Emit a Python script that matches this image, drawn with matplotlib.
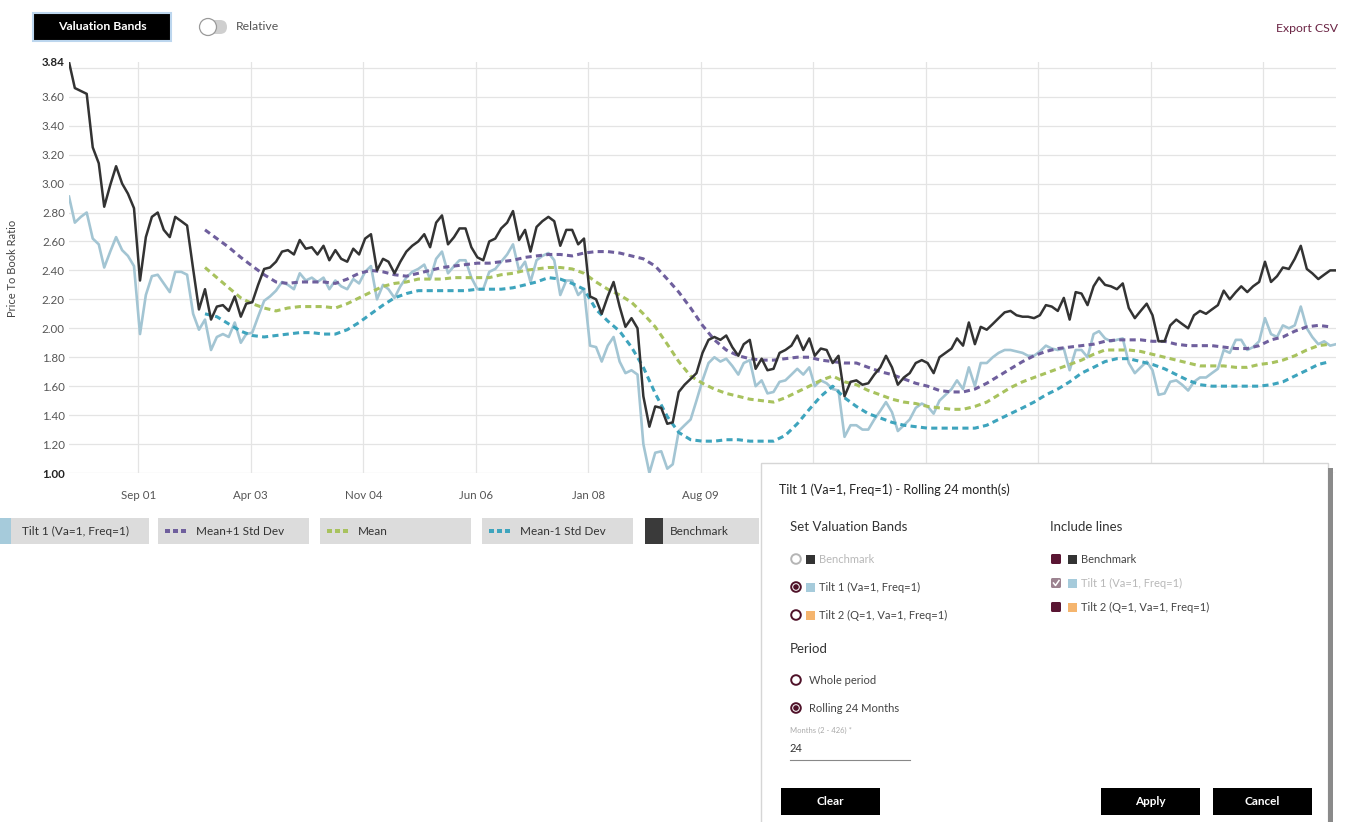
import matplotlib.pyplot as plt
import matplotlib.patches as mpatches
import numpy as np
import pandas as pd

plt.rcParams['font.family'] = ['Lato', 'DejaVu Sans']

# Monthly price-to-book series
benchmark = [
    3.84, 3.66, 3.64, 3.62, 3.25, 3.14, 2.84, 2.99, 3.12, 3.00,
    2.93, 2.83, 2.33, 2.63, 2.77, 2.80, 2.68, 2.63, 2.77, 2.74,
    2.71, 2.41, 2.13, 2.27, 2.06, 2.15, 2.16, 2.12, 2.22, 2.08,
    2.17, 2.18, 2.30, 2.41, 2.42, 2.46, 2.53, 2.54, 2.51, 2.61,
    2.55, 2.56, 2.51, 2.57, 2.47, 2.54, 2.48, 2.46, 2.55, 2.51,
    2.62, 2.65, 2.40, 2.48, 2.46, 2.38, 2.46, 2.53, 2.57, 2.60,
    2.65, 2.56, 2.73, 2.78, 2.58, 2.63, 2.69, 2.69, 2.56, 2.49,
    2.47, 2.60, 2.62, 2.69, 2.73, 2.81, 2.61, 2.68, 2.53, 2.70,
    2.74, 2.77, 2.74, 2.57, 2.68, 2.68, 2.58, 2.62, 2.22, 2.20,
    2.10, 2.22, 2.32, 2.15, 2.01, 2.07, 2.00, 1.53, 1.32, 1.46,
    1.45, 1.34, 1.35, 1.56, 1.61, 1.65, 1.69, 1.83, 1.92, 1.94,
    1.92, 1.95, 1.87, 1.81, 1.89, 1.92, 1.72, 1.79, 1.71, 1.72,
    1.83, 1.85, 1.88, 1.95, 1.85, 1.93, 1.81, 1.86, 1.85, 1.76,
    1.81, 1.53, 1.63, 1.64, 1.61, 1.62, 1.68, 1.73, 1.81, 1.73,
    1.61, 1.66, 1.69, 1.76, 1.78, 1.76, 1.69, 1.80, 1.83, 1.86,
    1.93, 1.88, 2.04, 1.89, 2.01, 1.99, 2.03, 2.07, 2.11, 2.12,
    2.09, 2.08, 2.08, 2.07, 2.09, 2.16, 2.15, 2.12, 2.21, 2.06,
    2.25, 2.24, 2.16, 2.29, 2.35, 2.30, 2.29, 2.27, 2.31, 2.14,
    2.07, 2.12, 2.17, 2.09, 1.91, 1.91, 2.02, 2.06, 2.03, 2.00,
    2.09, 2.12, 2.10, 2.13, 2.16, 2.26, 2.20, 2.25, 2.29, 2.25,
    2.29, 2.32, 2.46, 2.32, 2.36, 2.42, 2.41, 2.48, 2.57, 2.41,
    2.38, 2.34, 2.37, 2.40, 2.40,
]

tilt1 = [
    2.91, 2.73, 2.77, 2.80, 2.62, 2.58, 2.42, 2.53, 2.63, 2.54,
    2.50, 2.43, 1.96, 2.23, 2.36, 2.37, 2.31, 2.25, 2.39, 2.39,
    2.37, 2.10, 1.99, 2.06, 1.85, 1.94, 1.96, 1.94, 2.04, 1.90,
    1.96, 1.97, 2.08, 2.19, 2.22, 2.26, 2.32, 2.30, 2.27, 2.38,
    2.33, 2.35, 2.32, 2.35, 2.27, 2.33, 2.29, 2.27, 2.34, 2.31,
    2.39, 2.43, 2.20, 2.30, 2.27, 2.21, 2.29, 2.35, 2.39, 2.41,
    2.44, 2.34, 2.48, 2.53, 2.38, 2.43, 2.47, 2.47, 2.35, 2.27,
    2.27, 2.39, 2.41, 2.46, 2.51, 2.58, 2.40, 2.46, 2.32, 2.47,
    2.50, 2.52, 2.47, 2.23, 2.33, 2.33, 2.23, 2.27, 1.88, 1.87,
    1.77, 1.88, 1.94, 1.77, 1.69, 1.71, 1.68, 1.20, 1.00, 1.14,
    1.15, 1.03, 1.06, 1.29, 1.33, 1.37, 1.50, 1.64, 1.76, 1.80,
    1.77, 1.79, 1.74, 1.68, 1.76, 1.78, 1.60, 1.64, 1.55, 1.56,
    1.63, 1.64, 1.68, 1.72, 1.68, 1.73, 1.60, 1.64, 1.62, 1.58,
    1.57, 1.25, 1.33, 1.33, 1.30, 1.30, 1.37, 1.43, 1.49, 1.42,
    1.29, 1.33, 1.37, 1.45, 1.48, 1.46, 1.41, 1.50, 1.54, 1.58,
    1.64, 1.58, 1.73, 1.60, 1.76, 1.76, 1.80, 1.83, 1.85, 1.85,
    1.84, 1.83, 1.81, 1.81, 1.84, 1.88, 1.86, 1.85, 1.86, 1.71,
    1.85, 1.85, 1.80, 1.96, 1.98, 1.93, 1.91, 1.92, 1.93, 1.76,
    1.69, 1.73, 1.77, 1.71, 1.54, 1.55, 1.63, 1.64, 1.61, 1.57,
    1.63, 1.66, 1.66, 1.69, 1.72, 1.85, 1.83, 1.92, 1.92, 1.85,
    1.87, 1.91, 2.07, 1.96, 1.94, 2.02, 2.00, 2.02, 2.15, 2.00,
    1.94, 1.89, 1.91, 1.88, 1.89,
]

# Rolling 24 month bands, sampled every second month from month 24
mean_plus_sd = [
    2.68, 2.62, 2.56, 2.49, 2.43, 2.37, 2.32, 2.31, 2.32, 2.32,
    2.32, 2.31, 2.34, 2.38, 2.40, 2.39, 2.37, 2.36, 2.38, 2.40,
    2.42, 2.43, 2.44, 2.45, 2.45, 2.46, 2.47, 2.49, 2.50, 2.51,
    2.51, 2.50, 2.52, 2.53, 2.53, 2.52, 2.50, 2.48, 2.43, 2.34,
    2.25, 2.14, 2.02, 1.92, 1.85, 1.81, 1.79, 1.78, 1.78, 1.79,
    1.80, 1.80, 1.78, 1.77, 1.76, 1.76, 1.73, 1.70, 1.68, 1.65,
    1.62, 1.60, 1.57, 1.56, 1.56, 1.58, 1.62, 1.67, 1.72, 1.77,
    1.81, 1.84, 1.86, 1.87, 1.88, 1.89, 1.91, 1.92, 1.92, 1.92,
    1.91, 1.91, 1.89, 1.88, 1.88, 1.88, 1.87, 1.86, 1.86, 1.88,
    1.92, 1.94, 1.98, 2.01, 2.02, 2.01,
]
mean = [
    2.42, 2.35, 2.28, 2.21, 2.17, 2.14, 2.12, 2.14, 2.15, 2.15,
    2.15, 2.14, 2.17, 2.21, 2.25, 2.29, 2.31, 2.32, 2.34, 2.34,
    2.34, 2.35, 2.35, 2.35, 2.35, 2.37, 2.38, 2.40, 2.41, 2.42,
    2.42, 2.41, 2.38, 2.32, 2.27, 2.23, 2.18, 2.10, 2.01, 1.89,
    1.77, 1.67, 1.62, 1.58, 1.55, 1.53, 1.51, 1.50, 1.49, 1.52,
    1.56, 1.60, 1.64, 1.67, 1.63, 1.61, 1.57, 1.54, 1.51, 1.49,
    1.48, 1.46, 1.45, 1.44, 1.44, 1.46, 1.49, 1.54, 1.59, 1.63,
    1.66, 1.69, 1.72, 1.75, 1.78, 1.82, 1.85, 1.85, 1.85, 1.84,
    1.82, 1.80, 1.78, 1.76, 1.74, 1.74, 1.74, 1.73, 1.73, 1.75,
    1.76, 1.78, 1.81, 1.85, 1.88, 1.89,
]
mean_minus_sd = [
    2.10, 2.08, 2.03, 1.98, 1.95, 1.94, 1.95, 1.96, 1.97, 1.97,
    1.96, 1.96, 1.99, 2.04, 2.10, 2.16, 2.21, 2.24, 2.26, 2.26,
    2.26, 2.26, 2.26, 2.27, 2.27, 2.27, 2.28, 2.30, 2.32, 2.35,
    2.34, 2.31, 2.27, 2.13, 2.05, 1.98, 1.87, 1.73, 1.55, 1.39,
    1.28, 1.23, 1.22, 1.22, 1.23, 1.23, 1.22, 1.22, 1.22, 1.26,
    1.34, 1.44, 1.53, 1.60, 1.52, 1.46, 1.41, 1.38, 1.35, 1.33,
    1.32, 1.31, 1.31, 1.31, 1.31, 1.31, 1.33, 1.37, 1.41, 1.45,
    1.49, 1.54, 1.58, 1.63, 1.69, 1.73, 1.77, 1.79, 1.79, 1.77,
    1.75, 1.72, 1.68, 1.64, 1.61, 1.60, 1.60, 1.60, 1.60, 1.60,
    1.61, 1.63, 1.67, 1.71, 1.75, 1.77,
]

grid_levels = [1.0, 1.2, 1.4, 1.6, 1.8, 2.0, 2.2, 2.4, 2.6, 2.8, 3.0, 3.2, 3.4, 3.6, 3.8]
y_max = 3.84
visible_x_labels = 6  # the rest sit under the settings panel

dates = pd.date_range('2000-09-01', periods=len(benchmark), freq='MS') + pd.Timedelta(days=9)
band_dates = dates[23::2][:len(mean)]
tick_dates = pd.date_range('2001-09-01', periods=11, freq='19MS')

W, H = 1353, 822
fig = plt.figure(figsize=(W / 100, H / 100), dpi=100)
fig.patch.set_facecolor('white')

# main chart
ax_l, ax_r, ax_t, ax_b = 69, 1336, 62, 473
ax = fig.add_axes([ax_l / W, 1 - ax_b / H, (ax_r - ax_l) / W, (ax_b - ax_t) / H])

ax.plot(dates, tilt1, color='#a3c5d3', lw=1.9, zorder=3)
ax.plot(band_dates, mean_plus_sd, color='#6f5f9d', lw=2.2, dashes=(2, 1.4), zorder=4)
ax.plot(band_dates, mean, color='#a8c25e', lw=2.2, dashes=(2, 1.4), zorder=4)
ax.plot(band_dates, mean_minus_sd, color='#3ea4bd', lw=2.2, dashes=(2, 1.4), zorder=4)
ax.plot(dates, benchmark, color='#333333', lw=1.8, zorder=5)

ax.set_xlim(dates[0], dates[-1])
ax.set_ylim(1.0, y_max)
ax.set_yticks(grid_levels)
ax.set_yticklabels([('' if v == 3.8 else f'{v:.2f}') for v in grid_levels])
ax.set_yticks([y_max], minor=True)
ax.set_yticklabels([f'{y_max:.2f}'], minor=True)
ax.set_xticks(tick_dates)
ax.set_xticklabels([d.strftime('%b %y') if k < visible_x_labels else ''
                    for k, d in enumerate(tick_dates)])
ax.tick_params(axis='both', which='both', length=0, labelsize=8.3, labelcolor='#555555')
ax.tick_params(axis='y', which='both', pad=3)
ax.tick_params(axis='x', pad=12)
for lab in ax.get_yticklabels():
    if lab.get_text() == '1.00':
        lab.set_fontweight('bold')
        lab.set_color('#222222')
for lab in ax.get_yticklabels(minor=True):
    lab.set_fontweight('bold')
    lab.set_color('#222222')
ax.grid(True, which='major', color='#e4e4e4', lw=0.9)
ax.set_axisbelow(True)
for s in ax.spines.values():
    s.set_visible(False)

fig.text(13 / W, 1 - 268 / H, 'Price To Book Ratio', rotation=90, ha='center',
         va='center', fontsize=8, color='#444444')

# UI overlay in pixel coordinates
ui = fig.add_axes([0, 0, 1, 1], zorder=10)
ui.set_xlim(0, W)
ui.set_ylim(H, 0)
ui.axis('off')
ui.patch.set_alpha(0)

# top controls
ui.add_patch(mpatches.Rectangle((33, 13), 138, 28, facecolor='black', edgecolor='#bcd6ee', lw=1.5))
ui.text(102, 27, 'Valuation Bands', color='white', fontsize=8.8, fontweight='bold', ha='center', va='center')
ui.add_patch(mpatches.FancyBboxPatch((207, 20), 20, 14, boxstyle='round,pad=0,rounding_size=7',
                                     facecolor='#cfcfcf', edgecolor='none'))
ui.add_patch(mpatches.Circle((208, 27), 8.5, facecolor='white', edgecolor='#9a9a9a', lw=0.9))
ui.text(236, 27, 'Relative', color='#555555', fontsize=8.8, va='center')
ui.text(1338, 29, 'Export CSV', color='#6b2444', fontsize=8.8, ha='right', va='center')

# legend row
leg_y, leg_h = 518, 26
ui.add_patch(mpatches.Rectangle((0, leg_y), 11, leg_h, facecolor='#a6cbdb', edgecolor='none'))
ui.add_patch(mpatches.Rectangle((11, leg_y), 138, leg_h, facecolor='#dcdcdc', edgecolor='none'))
ui.text(22, leg_y + leg_h / 2, 'Tilt 1 (Va=1, Freq=1)', fontsize=8.5, color='#333333', va='center')
band_legend = [(158, 'Mean+1 Std Dev', '#6f5f9d'), (320, 'Mean', '#a8c25e'), (482, 'Mean-1 Std Dev', '#3ea4bd')]
for x0, name, col in band_legend:
    ui.add_patch(mpatches.Rectangle((x0, leg_y), 151, leg_h, facecolor='#dcdcdc', edgecolor='none'))
    for k in range(3):
        ui.add_patch(mpatches.Rectangle((x0 + 7 + k * 8, leg_y + leg_h / 2 - 2), 5, 4, facecolor=col, edgecolor='none'))
    ui.text(x0 + 38, leg_y + leg_h / 2, name, fontsize=8.5, color='#333333', va='center')
ui.add_patch(mpatches.Rectangle((645, leg_y), 18, leg_h, facecolor='#3a3a3a', edgecolor='none'))
ui.add_patch(mpatches.Rectangle((663, leg_y), 96, leg_h, facecolor='#dcdcdc', edgecolor='none'))
ui.text(670, leg_y + leg_h / 2, 'Benchmark', fontsize=8.5, color='#333333', va='center')

# settings panel
ui.add_patch(mpatches.Rectangle((761, 463), 567, 370, facecolor='white', edgecolor='#d6d6d6', lw=1))
ui.add_patch(mpatches.Rectangle((1328, 468), 5, 360, facecolor='#8a8a8a', edgecolor='none'))
ui.text(779, 490, 'Tilt 1 (Va=1, Freq=1) - Rolling 24 month(s)', fontsize=9, color='#222222', va='center')
ui.text(790, 527, 'Set Valuation Bands', fontsize=9.5, color='#333333', va='center')
ui.text(1050, 527, 'Include lines', fontsize=9.5, color='#333333', va='center')

maroon = '#4f1229'
radio_rows = [(559, 'Benchmark', '#333333', False, True),
              (587, 'Tilt 1 (Va=1, Freq=1)', '#a6cbdb', True, False),
              (615, 'Tilt 2 (Q=1, Va=1, Freq=1)', '#f5b56e', False, False)]
for y, name, col, sel, disabled in radio_rows:
    edge = '#b5b5b5' if disabled else maroon
    ui.add_patch(mpatches.Circle((796, y), 4.8, facecolor='white', edgecolor=edge, lw=1.4))
    if sel:
        ui.add_patch(mpatches.Circle((796, y), 2.8, facecolor=maroon, edgecolor='none'))
    ui.add_patch(mpatches.Rectangle((806, y - 4.5), 9, 9, facecolor=col, edgecolor='none'))
    ui.text(819, y, name, fontsize=8, color='#b8b8b8' if disabled else '#444444', va='center')

check_rows = [(559, 'Benchmark', '#333333', False),
              (583, 'Tilt 1 (Va=1, Freq=1)', '#a6cbdb', True),
              (607, 'Tilt 2 (Q=1, Va=1, Freq=1)', '#f5b56e', False)]
for y, name, col, dim in check_rows:
    box = '#9c8390' if dim else '#5a1633'
    ui.add_patch(mpatches.FancyBboxPatch((1051, y - 5), 10, 10, boxstyle='round,pad=0,rounding_size=1.5',
                                         facecolor=box, edgecolor='none'))
    if dim:
        ui.plot([1053.5, 1055.5, 1059], [y, y + 2.5, y - 2.5], color='white', lw=1.1)
    ui.add_patch(mpatches.Rectangle((1068, y - 4.5), 9, 9, facecolor=col, edgecolor='none'))
    ui.text(1081, y, name, fontsize=8, color='#b8b8b8' if dim else '#444444', va='center')

ui.text(790, 649, 'Period', fontsize=9.5, color='#333333', va='center')
period_rows = [(680, 'Whole period', False), (708, 'Rolling 24 Months', True)]
for y, name, sel in period_rows:
    ui.add_patch(mpatches.Circle((796, y), 4.8, facecolor='white', edgecolor=maroon, lw=1.4))
    if sel:
        ui.add_patch(mpatches.Circle((796, y), 2.8, facecolor=maroon, edgecolor='none'))
    ui.text(809, y, name, fontsize=8, color='#444444', va='center')
ui.text(790, 730, 'Months (2 - 426) *', fontsize=5.5, color='#aaaaaa', va='center')
ui.text(790, 748, '24', fontsize=8, color='#333333', va='center')
ui.plot([790, 910], [760, 760], color='#888888', lw=0.8)

buttons = [(781, 'Clear'), (1101, 'Apply'), (1213, 'Cancel')]
for x0, name in buttons:
    ui.add_patch(mpatches.Rectangle((x0, 788), 99, 27, facecolor='black', edgecolor='none'))
    ui.text(x0 + 49.5, 801.5, name, color='white', fontsize=8.5, fontweight='bold', ha='center', va='center')

fig.savefig('out.png', dpi=100, facecolor='white')
